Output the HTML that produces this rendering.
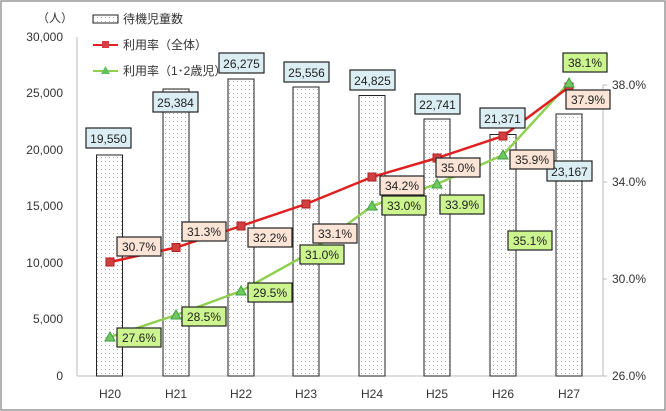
<!DOCTYPE html>
<html><head><meta charset="utf-8"><style>
html,body{margin:0;padding:0;background:#fff;}
svg{display:block;font-family:"Liberation Sans","Noto Sans CJK JP",sans-serif;}
</style></head><body>
<svg width="666" height="411" viewBox="0 0 666 411">
<defs>
<pattern id="dots" width="4" height="4" patternUnits="userSpaceOnUse">
<rect width="4" height="4" fill="#fff"/><rect x="1" y="1" width="1" height="1" fill="#aaa"/>
</pattern>
</defs>
<rect x="1" y="1" width="664" height="409" fill="#fff" stroke="#999" stroke-width="1.5"/>
<line x1="77" y1="37" x2="77" y2="376" stroke="#bbb"/>
<line x1="77" y1="376" x2="603" y2="376" stroke="#bbb"/>
<line x1="603" y1="85" x2="603" y2="376" stroke="#bbb"/>
<g stroke="#bbb"><line x1="603" y1="85" x2="607" y2="85"/><line x1="603" y1="182" x2="607" y2="182"/><line x1="603" y1="279" x2="607" y2="279"/><line x1="603" y1="376" x2="607" y2="376"/></g>
<g font-size="12" fill="#333" text-anchor="end">
<text x="63" y="41">30,000</text><text x="63" y="97">25,000</text><text x="63" y="154">20,000</text>
<text x="63" y="210">15,000</text><text x="63" y="267">10,000</text><text x="63" y="323">5,000</text><text x="63" y="380">0</text>
</g>
<g font-size="12" fill="#333">
<text x="612" y="89">38.0%</text><text x="612" y="186">34.0%</text><text x="612" y="283">30.0%</text><text x="612" y="380">26.0%</text>
</g>
<text x="37" y="22" font-size="12" fill="#333">（人）</text>
<g font-size="12" fill="#333" text-anchor="middle">
<text x="110" y="398">H20</text><text x="176" y="398">H21</text><text x="241" y="398">H22</text><text x="306" y="398">H23</text>
<text x="372" y="398">H24</text><text x="437" y="398">H25</text><text x="503" y="398">H26</text><text x="569" y="398">H27</text>
</g>
<g fill="url(#dots)" stroke="#222" stroke-width="1">
<rect x="96.5" y="155" width="26" height="221"/>
<rect x="163" y="89" width="26" height="287"/>
<rect x="228" y="79" width="26" height="297"/>
<rect x="293" y="87" width="26" height="289"/>
<rect x="359" y="95.5" width="26" height="280.5"/>
<rect x="424" y="119" width="26" height="257"/>
<rect x="490" y="134.5" width="26" height="241.5"/>
<rect x="556" y="114" width="26" height="262"/>
</g>
<rect x="93" y="15" width="25" height="8" fill="url(#dots)" stroke="#222"/>
<text x="123" y="23" font-size="12" fill="#333">待機児童数</text>
<line x1="93" y1="45" x2="118" y2="45" stroke="#e02020" stroke-width="2"/><rect x="102" y="41" width="7" height="7" fill="#d04040"/>
<text x="123" y="49" font-size="12" fill="#333">利用率（全体）</text>
<line x1="93" y1="71" x2="118" y2="71" stroke="#8fd050" stroke-width="2"/><polygon points="105.5,66 110,74 101,74" fill="#60c060"/>
<text x="123" y="75" font-size="12" fill="#333">利用率（1･2歳児）</text>
<polyline points="110,337 176,315 241,291 306,255 372,206 437,184 503,155 569,83" fill="none" stroke="#8fd050" stroke-width="2.5"/>
<polyline points="110,262 176,247.5 241,226 306,204 372,177 437,158 503,136 569,87" fill="none" stroke="#e02020" stroke-width="2.5"/>
<g fill="#d04040" stroke="#b02020">
<rect x="106" y="258" width="8" height="8"/><rect x="172" y="243.5" width="8" height="8"/><rect x="237" y="222" width="8" height="8"/><rect x="302" y="200" width="8" height="8"/>
<rect x="368" y="173" width="8" height="8"/><rect x="433" y="154" width="8" height="8"/><rect x="499" y="132" width="8" height="8"/><rect x="565" y="83" width="8" height="8"/>
</g>
<g fill="#70c860" stroke="#40a040">
<polygon points="110,332 115,341 105,341"/><polygon points="176,310 181,319 171,319"/><polygon points="241,286 246,295 236,295"/><polygon points="306,250 311,259 301,259"/>
<polygon points="372,201 377,210 367,210"/><polygon points="437,179 442,188 432,188"/><polygon points="503,150 508,159 498,159"/><polygon points="569,78 574,87 564,87"/>
</g>
<g font-size="12" fill="#222" text-anchor="middle" stroke-width="1.2">
<g fill="#daeef3" stroke="#222">
<rect x="86" y="128" width="45" height="20"/><rect x="153" y="92" width="45" height="20"/><rect x="219" y="53" width="45" height="20"/><rect x="284" y="62" width="45" height="20"/>
<rect x="350" y="70" width="45" height="20"/><rect x="415" y="94" width="45" height="20"/><rect x="480" y="108" width="45" height="20"/><rect x="547" y="161" width="45" height="20"/>
</g>
<text x="108.5" y="143">19,550</text><text x="175.5" y="107">25,384</text><text x="241.5" y="68">26,275</text><text x="306.5" y="77">25,556</text>
<text x="372.5" y="85">24,825</text><text x="437.5" y="109">22,741</text><text x="502.5" y="123">21,371</text><text x="569.5" y="176">23,167</text>
<g fill="#fce4d6" stroke="#222">
<rect x="117" y="237" width="44" height="19"/><rect x="182" y="222" width="44" height="19"/><rect x="248" y="228" width="44" height="19"/><rect x="313" y="224" width="44" height="19"/>
<rect x="380" y="176" width="44" height="19"/><rect x="436" y="158" width="44" height="19"/><rect x="510" y="150" width="44" height="19"/><rect x="566" y="90" width="44" height="19"/>
</g>
<text x="139" y="251">30.7%</text><text x="204" y="236">31.3%</text><text x="270" y="242">32.2%</text><text x="335" y="238">33.1%</text>
<text x="402" y="190">34.2%</text><text x="458" y="172">35.0%</text><text x="532" y="164">35.9%</text><text x="588" y="104">37.9%</text>
<g fill="#ccf58f" stroke="#222">
<rect x="117" y="328" width="44" height="19"/><rect x="182" y="307" width="44" height="19"/><rect x="248" y="283" width="44" height="19"/><rect x="300" y="245" width="44" height="19"/>
<rect x="382" y="196" width="44" height="19"/><rect x="440" y="195" width="44" height="19"/><rect x="508" y="231" width="44" height="19"/><rect x="563" y="53" width="44" height="19"/>
</g>
<text x="139" y="342">27.6%</text><text x="204" y="321">28.5%</text><text x="270" y="297">29.5%</text><text x="322" y="259">31.0%</text>
<text x="404" y="210">33.0%</text><text x="462" y="209">33.9%</text><text x="530" y="245">35.1%</text><text x="585" y="67">38.1%</text>
</g>
</svg>
</body></html>
